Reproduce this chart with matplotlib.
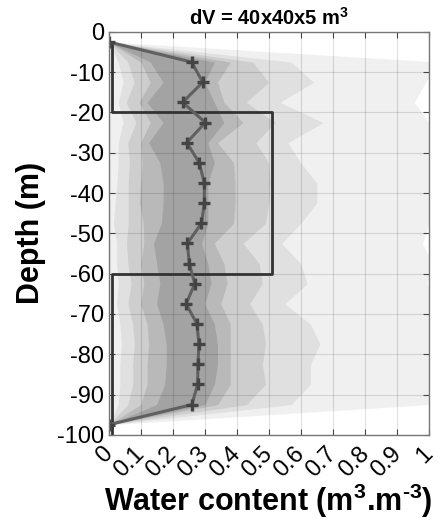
import matplotlib
matplotlib.use("Agg")
import matplotlib.pyplot as plt
import matplotlib.transforms as mtransforms
import numpy as np

plt.rcParams['font.family'] = ['Liberation Sans', 'DejaVu Sans']
plt.rcParams['mathtext.fontset'] = 'custom'
plt.rcParams['mathtext.rm'] = 'Liberation Sans:bold'
plt.rcParams['mathtext.bf'] = 'Liberation Sans:bold'
plt.rcParams['mathtext.default'] = 'bf'

depth = [-2.5, -7.5, -12.5, -17.5, -22.5, -27.5, -32.5, -37.5, -42.5, -47.5,
         -52.5, -57.5, -62.5, -67.5, -72.5, -77.5, -82.5, -87.5, -92.5, -97.5]
mean_wc = [0, 0.259, 0.294, 0.231, 0.302, 0.244, 0.283, 0.299, 0.299, 0.29,
           0.246, 0.252, 0.269, 0.242, 0.276, 0.282, 0.279, 0.278, 0.260, 0]

# band limits (outer -> inner)
L5 = [0, 0.002, 0.002, 0.002, 0.002, 0.002, 0.002, 0.002, 0.002, 0.002,
      0.002, 0.002, 0.002, 0.002, 0.002, 0.002, 0.002, 0.002, 0.002, 0]
U5 = [0, 1.03, 0.99, 0.955, 1.0, 1.03, 1.03, 1.03, 1.03, 1.0,
      0.98, 1.01, 0.995, 1.03, 1.03, 1.03, 1.03, 1.03, 1.0, 0]
L4 = [0, 0.03, 0.045, 0.03, 0.045, 0.03, 0.03, 0.026, 0.02, 0.015,
      0.025, 0.025, 0.03, 0.025, 0.035, 0.04, 0.035, 0.035, 0.03, 0]
U4 = [0, 0.57, 0.64, 0.535, 0.67, 0.56, 0.6, 0.65, 0.65, 0.6,
      0.54, 0.6, 0.62, 0.55, 0.63, 0.66, 0.63, 0.63, 0.57, 0]
L3 = [0, 0.06, 0.08, 0.055, 0.085, 0.06, 0.065, 0.061, 0.061, 0.061,
      0.056, 0.06, 0.07, 0.06, 0.075, 0.08, 0.075, 0.075, 0.06, 0]
U3 = [0, 0.45, 0.50, 0.43, 0.52, 0.46, 0.5, 0.504, 0.50, 0.49,
      0.42, 0.47, 0.48, 0.44, 0.48, 0.49, 0.48, 0.49, 0.43, 0]
L2 = [0, 0.1, 0.13, 0.095, 0.13, 0.1, 0.105, 0.1, 0.097, 0.108,
      0.11, 0.1, 0.11, 0.1, 0.12, 0.125, 0.12, 0.12, 0.1, 0]
U2 = [0, 0.38, 0.34, 0.36, 0.42, 0.34, 0.39, 0.395, 0.395, 0.39,
      0.33, 0.36, 0.37, 0.35, 0.38, 0.38, 0.38, 0.38, 0.34, 0]
L1 = [0, 0.13, 0.17, 0.12, 0.17, 0.125, 0.16, 0.17, 0.17, 0.165,
      0.14, 0.15, 0.16, 0.15, 0.17, 0.18, 0.18, 0.175, 0.15, 0]
U1 = [0, 0.33, 0.30, 0.33, 0.36, 0.31, 0.33, 0.31, 0.31, 0.31,
      0.29, 0.31, 0.32, 0.3, 0.33, 0.34, 0.34, 0.33, 0.3, 0]

band_colors = ['#f0f0f0', '#e0e0e0', '#cecece', '#b9b9b9', '#a3a3a3']

true_x = [0.01, 0.01, 0.51, 0.51, 0.01, 0.01]
true_y = [-2.5, -20, -20, -60, -60, -100]

xticks = [0, 0.1, 0.2, 0.3, 0.4, 0.5, 0.6, 0.7, 0.8, 0.9, 1]
xticklabels = ['0', '0.1', '0.2', '0.3', '0.4', '0.5', '0.6', '0.7', '0.8', '0.9', '1']
yticks = [0, -10, -20, -30, -40, -50, -60, -70, -80, -90, -100]
yticklabels = ['0', '-10', '-20', '-30', '-40', '-50', '-60', '-70', '-80', '-90', '-100']

fig = plt.figure(figsize=(4.38, 5.22), dpi=100)
ax = fig.add_axes([0.248, 0.167, 0.731, 0.772])

for (lo, hi), c in zip([(L5, U5), (L4, U4), (L3, U3), (L2, U2), (L1, U1)], band_colors):
    ax.fill_betweenx(depth, lo, hi, color=c, lw=0, zorder=1)

ax.grid(True, color='#000000', alpha=0.12, lw=0.8, zorder=2)
ax.set_axisbelow(False)

ax.plot(true_x, true_y, color='#333333', lw=2.0, zorder=3)
ax.plot(mean_wc, depth, color='#606060', lw=2.2, marker='+', ms=9, mew=2.4,
        mec='#444444', zorder=4)

ax.set_xlim(0, 1)
ax.set_ylim(-100, 0)
ax.set_xticks(xticks)
ax.set_xticklabels(xticklabels, rotation=45, ha='right', va='top', rotation_mode='anchor')
ax.set_yticks(yticks)
ax.set_yticklabels(yticklabels)
ax.tick_params(direction='in', top=True, right=True, labelsize=17, length=4,
               color='#444444', width=0.8)
ax.tick_params(axis='x', pad=6)
ax.tick_params(axis='y', pad=3)
shift = mtransforms.ScaledTranslation(-7 / 100, 0, fig.dpi_scale_trans)
for lab in ax.get_xticklabels():
    lab.set_transform(lab.get_transform() + shift)
for s in ax.spines.values():
    s.set_color('#777777')
    s.set_linewidth(1.0)
    s.set_zorder(5)

ax.set_title('dV = 40x40x5 m$^3$', fontsize=14.5, fontweight='bold', pad=5)
ax.set_ylabel('Depth (m)', fontsize=22, fontweight='bold', labelpad=8)
ax.set_xlabel(r'Water content (m$^3$.m$^{\text{-}3}$)', fontsize=22, fontweight='bold', labelpad=0)

fig.savefig('out.png', dpi=100)
